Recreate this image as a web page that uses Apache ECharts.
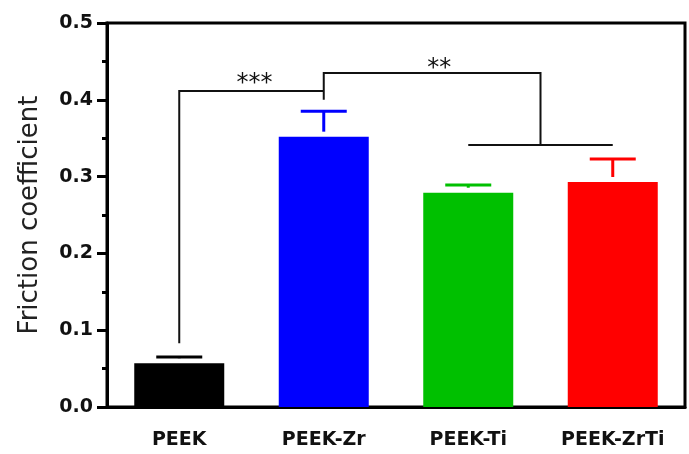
<!DOCTYPE html>
<html>
<head>
<meta charset="utf-8">
<script src="https://cdn.jsdelivr.net/npm/echarts@6/dist/echarts.min.js"></script>
<style>
  html, body { margin: 0; padding: 0; background: #ffffff; }
  #chart { width: 689px; height: 454px; }
</style>
</head>
<body>
<div id="chart"></div>
<script>
// Friction coefficient per sample group (mean and standard deviation)
const categories = ['PEEK', 'PEEK-Zr', 'PEEK-Ti', 'PEEK-ZrTi'];
const means = [0.057, 0.352, 0.279, 0.293];
const sds = [0.008, 0.033, 0.010, 0.030];
const barColors = ['#000000', '#0000ff', '#00c000', '#ff0000'];

// Y axis range
const yMin = 0;
const yMax = 0.5;
const yStep = 0.1;

// Significance brackets: polylines in (category index, value) units
const sigPaths = [
  [[0, 0.083], [0, 0.4115], [1, 0.4115]],
  [[1, 0.400], [1, 0.435], [2.5, 0.435], [2.5, 0.341]],
  [[2, 0.341], [3, 0.341]]
];
// Significance marks: [category position, value, text]
const sigMarks = [
  [0.52, 0.421, '***'],
  [1.80, 0.441, '**']
];

const FONT = 'DejaVu Sans';
const chart = echarts.init(document.getElementById('chart'), null, { renderer: 'canvas' });

// Map a fractional category position to pixels by interpolating between band centres
function coordAt(api, cx, v) {
  const i0 = Math.floor(cx);
  const i1 = Math.min(i0 + 1, categories.length - 1);
  const p0 = api.coord([i0, v]);
  if (i1 === i0 || cx === i0) return p0;
  const p1 = api.coord([i1, v]);
  const t = cx - i0;
  return [p0[0] + (p1[0] - p0[0]) * t, p0[1]];
}

const option = {
  backgroundColor: '#ffffff',
  animation: false,
  grid: {
    left: 107, right: 4, top: 23, bottom: 47,
    show: true, borderColor: '#000', borderWidth: 3, backgroundColor: 'transparent'
  },
  xAxis: {
    type: 'category',
    data: categories,
    axisLine: { lineStyle: { color: '#000', width: 3 } },
    axisTick: { alignWithLabel: true, length: 10, lineStyle: { color: '#000', width: 3 } },
    axisLabel: {
      margin: 24, color: '#111', fontFamily: FONT, fontWeight: 'bold', fontSize: 19
    }
  },
  yAxis: {
    type: 'value',
    min: yMin, max: yMax, interval: yStep,
    name: 'Friction coefficient',
    nameLocation: 'middle',
    nameGap: 64,
    nameTextStyle: { fontFamily: FONT, fontSize: 26, color: '#222' },
    splitLine: { show: false },
    axisLine: { show: true, lineStyle: { color: '#000', width: 3 } },
    axisTick: { show: true, length: 10, lineStyle: { color: '#000', width: 3 } },
    minorTick: { show: true, splitNumber: 2, length: 5, lineStyle: { color: '#000', width: 3 } },
    axisLabel: {
      margin: 14, color: '#111', fontFamily: FONT, fontWeight: 'bold', fontSize: 19,
      formatter: v => v.toFixed(1)
    }
  },
  series: [
    {
      type: 'bar',
      barWidth: 90,
      data: means.map((m, i) => ({ value: m, itemStyle: { color: barColors[i] } })),
      z: 2
    },
    {
      // error bars: cap at mean + sd, stem down towards the bar
      type: 'custom',
      data: means.map((m, i) => [i, m, m + sds[i]]),
      z: 3,
      renderItem: function (params, api) {
        const i = api.value(0);
        const top = api.coord([i, api.value(2)]);
        const base = api.coord([i, api.value(1)]);
        const color = barColors[i];
        const half = 23;
        return {
          type: 'group',
          children: [
            { type: 'line', shape: { x1: top[0] - half, y1: top[1], x2: top[0] + half, y2: top[1] },
              style: { stroke: color, lineWidth: 3 } },
            { type: 'line', shape: { x1: top[0], y1: top[1], x2: top[0], y2: Math.max(top[1], base[1] - 5) },
              style: { stroke: color, lineWidth: 3 } }
          ]
        };
      }
    },
    {
      // significance brackets
      type: 'custom',
      data: sigPaths.map((p, k) => [k]),
      z: 4,
      renderItem: function (params, api) {
        const path = sigPaths[params.dataIndex];
        const pts = path.map(p => coordAt(api, p[0], p[1]));
        return {
          type: 'polyline',
          shape: { points: pts },
          style: { stroke: '#111', lineWidth: 2, fill: null }
        };
      }
    },
    {
      // significance asterisks
      type: 'custom',
      data: sigMarks.map((m, k) => [k]),
      z: 5,
      renderItem: function (params, api) {
        const m = sigMarks[params.dataIndex];
        const p = coordAt(api, m[0], m[1]);
        return {
          type: 'text',
          x: p[0], y: p[1],
          style: {
            text: m[2], fill: '#111', font: '24px "' + FONT + '"',
            textAlign: 'center', textVerticalAlign: 'middle'
          }
        };
      }
    }
  ]
};

chart.setOption(option);
</script>
</body>
</html>
